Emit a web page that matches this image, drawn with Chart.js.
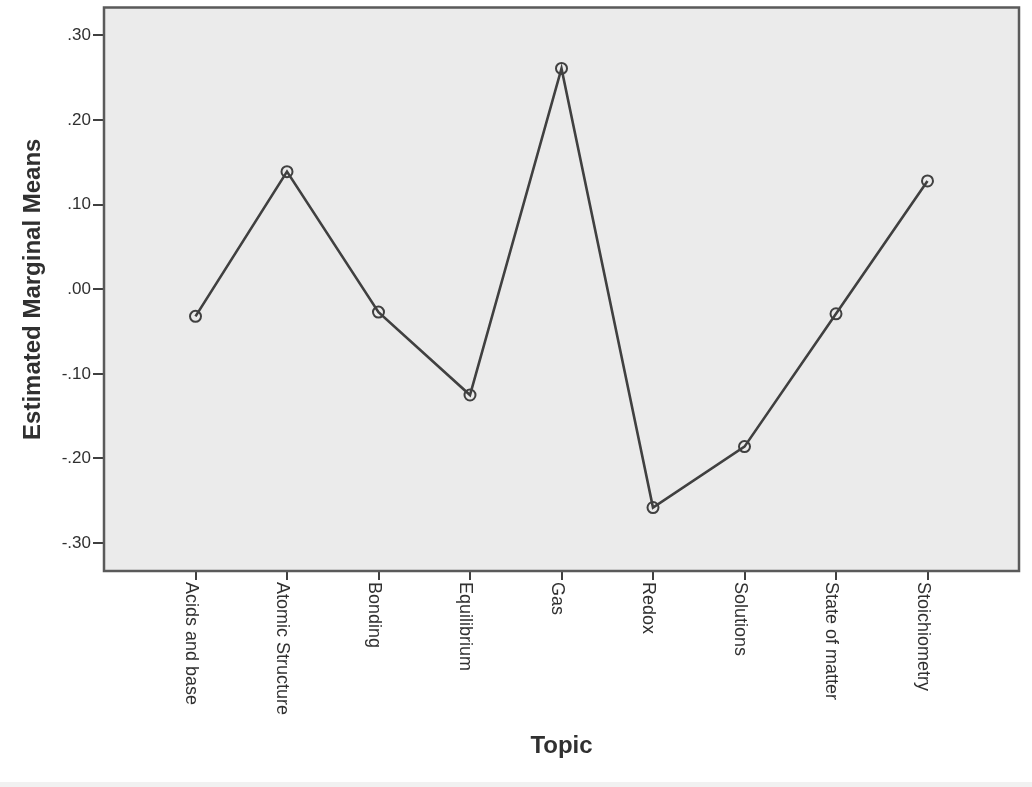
<!DOCTYPE html>
<html lang="en">

<head>
	<title>Estimated Marginal Means by Topic</title>
	<meta charset="utf-8">
	<script src="https://cdn.jsdelivr.net/npm/chart.js"></script>
	<style>
		body { margin: 0; background: #f1f1f1; }
		#wrap { width: 1032px; height: 782px; background: #fff; }
		canvas { display: block; }
	</style>
</head>

<body>
	<div id="wrap">
		<canvas id="means" width="1032" height="787"></canvas>
	</div>

	<script type="text/javascript">

		// values
		const topics = ["Acids and base", "Atomic Structure", "Bonding", "Equilibrium", "Gas", "Redox", "Solutions", "State of matter", "Stoichiometry"]
		const means = [-0.032, 0.139, -0.027, -0.125, 0.261, -0.258, -0.186, -0.029, 0.128]
		const yMin = -0.333
		const yMax = 0.333
		const yStep = 0.1

		const ink = '#404040'
		const textColor = '#303030'
		const fontFamily = '"Liberation Sans", Arial, sans-serif'

		// SPSS leaves an empty slot at each end of the category axis
		let labels = [''].concat(topics, [''])
		let values = [null].concat(means, [null])

		function fmtTick(v) {
			if (Math.abs(v) < 1e-9) return '.00'
			return v.toFixed(2).replace('0.', '.')
		}

		const spssFrame = {
			id: 'spssFrame',
			beforeDraw(chart) {
				const a = chart.chartArea
				const ctx = chart.ctx
				ctx.save()
				ctx.fillStyle = '#ebebeb'
				ctx.fillRect(a.left, a.top, a.right - a.left, a.bottom - a.top)
				ctx.restore()
			},
			afterDraw(chart) {
				const a = chart.chartArea
				const ctx = chart.ctx
				ctx.save()
				ctx.strokeStyle = '#5a5a5a'
				ctx.lineWidth = 2.5
				ctx.strokeRect(a.left, a.top, a.right - a.left, a.bottom - a.top)

				// category names read top to bottom (rotated clockwise)
				const x = chart.scales.x
				ctx.fillStyle = textColor
				ctx.font = '18px ' + fontFamily
				ctx.textAlign = 'left'
				ctx.textBaseline = 'alphabetic'
				chart.data.labels.forEach((lab, i) => {
					if (!lab) return
					ctx.save()
					ctx.translate(x.getPixelForTick(i), a.bottom + 11)
					ctx.rotate(Math.PI / 2)
					ctx.fillText(lab, 0, 10)
					ctx.restore()
				})
				ctx.restore()
			}
		}

		new Chart(document.getElementById('means'), {
			type: 'line',
			data: {
				labels: labels,
				datasets: [
					{
						label: 'Estimated Marginal Means',
						data: values,
						borderColor: ink,
						borderWidth: 2.6,
						pointRadius: 5.5,
						pointBorderWidth: 2,
						pointBorderColor: ink,
						pointBackgroundColor: 'rgba(0,0,0,0)',
						tension: 0
					}
				]
			},
			options: {
				responsive: false,
				animation: false,
				layout: {
					padding: { top: 7, right: 13, left: 0, bottom: 0 }
				},
				plugins: {
					legend: { display: false },
					tooltip: { enabled: false }
				},
				scales: {
					x: {
						offset: false,
						border: { display: false },
						grid: {
							drawOnChartArea: false,
							drawTicks: true,
							tickLength: 9,
							lineWidth: 2,
							color: (c) => (c.index > 0 && c.index < labels.length - 1) ? ink : 'rgba(0,0,0,0)'
						},
						ticks: { display: false, autoSkip: false },
						title: {
							display: true,
							text: 'Topic',
							color: textColor,
							font: { family: fontFamily, size: 24, weight: 'bold' },
							padding: { top: 0, bottom: 26 }
						},
						afterFit: (s) => { s.height = 787 - 571 }
					},
					y: {
						min: yMin,
						max: yMax,
						border: { display: false },
						grid: {
							drawOnChartArea: false,
							drawTicks: true,
							tickLength: 11,
							lineWidth: 2,
							color: ink
						},
						ticks: {
							stepSize: yStep,
							includeBounds: false,
							padding: 2,
							color: textColor,
							font: { family: fontFamily, size: 17 },
							callback: (v) => fmtTick(v)
						},
						title: {
							display: true,
							text: 'Estimated Marginal Means',
							color: textColor,
							font: { family: fontFamily, size: 24, weight: 'bold' },
							padding: { top: 19, bottom: 0 }
						},
						afterFit: (s) => {
							s.width = 104
							s.paddingTop = 0
							s.paddingBottom = 0
						}
					}
				}
			},
			plugins: [spssFrame]
		})
	</script>
</body>

</html>
